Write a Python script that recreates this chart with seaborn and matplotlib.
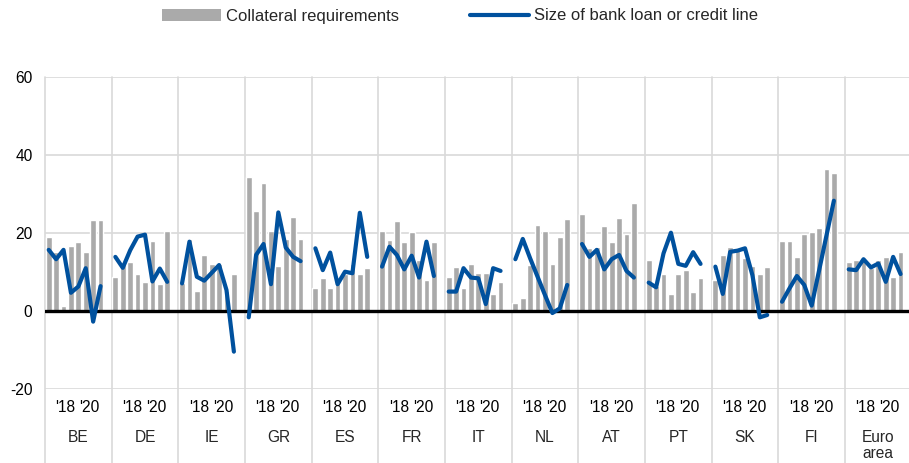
import numpy as np
import pandas as pd
import matplotlib
matplotlib.use("Agg")
import matplotlib.pyplot as plt
import seaborn as sns
from matplotlib.patches import Patch
from matplotlib.lines import Line2D

# Countries and survey rounds (eight per country)
countries = ["BE", "DE", "IE", "GR", "ES", "FR", "IT", "NL", "AT", "PT", "SK", "FI", "Euro\narea"]
year_labels = ["'18", "'20"]

# Net percentage of firms: collateral requirements
collateral = [
    [19.0, 15.0, 1.3, 16.6, 17.7, 15.1, 23.3, 23.3],   # BE
    [8.7, 12.0, 12.4, 9.3, 7.3, 17.9, 6.8, 20.5],      # DE
    [7.0, 18.4, 5.1, 14.4, 11.9, 11.9, 5.0, 9.3],      # IE
    [34.4, 25.6, 32.8, 20.5, 11.5, 18.4, 24.1, 18.5],  # GR
    [5.7, 8.3, 5.7, 8.5, 9.5, 12.0, 9.3, 10.9],        # ES
    [20.5, 18.1, 23.1, 17.5, 20.1, 13.0, 7.9, 17.5],   # FR
    [8.7, 11.3, 5.7, 11.9, 9.7, 9.7, 4.2, 7.3],        # IT
    [2.1, 3.2, 11.7, 22.1, 20.5, 11.9, 19.0, 23.6],    # NL
    [24.7, 16.0, 16.4, 21.7, 17.5, 23.7, 19.6, 27.7],  # AT
    [13.0, 6.3, 9.3, 4.2, 9.3, 10.4, 4.7, 8.3],        # PT
    [7.9, 14.4, 16.4, 15.6, 13.4, 11.5, 9.3, 11.3],    # SK
    [17.9, 17.9, 13.8, 19.6, 20.1, 21.1, 36.3, 35.4],  # FI
    [12.6, 13.0, 13.4, 11.0, 13.0, 13.8, 8.7, 15.0],   # Euro area
]

# Net percentage of firms: size of bank loan or credit line
loan_size = [
    [15.6, 13.2, 15.6, 4.6, 6.2, 10.9, -2.8, 6.3],     # BE
    [13.8, 11.0, 15.5, 19.0, 19.5, 7.5, 10.8, 7.4],    # DE
    [7.0, 17.7, 8.7, 7.7, 9.7, 11.7, 5.3, -10.5],      # IE
    [-1.7, 14.3, 17.1, 6.8, 25.2, 16.2, 13.8, 12.7],   # GR
    [16.0, 10.4, 14.9, 6.8, 10.0, 9.6, 25.1, 13.8],    # ES
    [11.3, 16.4, 14.3, 10.6, 14.1, 8.5, 17.7, 8.9],    # FR
    [4.9, 4.9, 10.9, 8.5, 8.3, 1.7, 10.9, 10.2],       # IT
    [13.2, 18.4, 13.4, 8.7, 4.0, -0.6, 0.6, 6.6],      # NL
    [17.1, 13.8, 15.6, 10.6, 13.2, 14.3, 10.2, 8.5],   # AT
    [7.2, 6.0, 14.7, 20.0, 12.0, 11.5, 15.0, 12.0],    # PT
    [11.3, 4.3, 15.1, 15.4, 16.0, 9.1, -1.7, -1.1],    # SK
    [2.3, 5.7, 8.9, 6.6, 1.3, 10.3, 19.3, 28.2],       # FI
    [10.6, 10.4, 13.2, 11.1, 12.1, 7.4, 13.8, 9.4],    # Euro area
]

BAR_COLOR = "#aaaaaa"
LINE_COLOR = "#00519e"
GRID_COLOR = "#d9d9d9"
SLOTS = 9  # eight rounds plus one blank spacer per country block
FS = 11.2

rows = []
for g, name in enumerate(countries):
    for p, (cv, lv) in enumerate(zip(collateral[g], loan_size[g])):
        rows.append({"country": name, "pos": g * SLOTS + p,
                     "collateral": cv, "loan": lv})
df = pd.DataFrame(rows)

sns.set_style("white")
plt.rcParams["font.family"] = ["Liberation Sans", "DejaVu Sans"]

W, H = 909, 463
fig = plt.figure(figsize=(W / 100, H / 100), dpi=100)
ax_left, ax_bottom, ax_w, ax_h = 45, 74.3, 864, 312
ax = fig.add_axes([ax_left / W, ax_bottom / H, ax_w / W, ax_h / H])

sns.barplot(data=df, x="pos", y="collateral", native_scale=True,
            color=BAR_COLOR, saturation=1, width=0.78, errorbar=None,
            ax=ax, zorder=2)
ax.axhline(0, color="black", lw=2.4, zorder=3)
sns.lineplot(data=df, x="pos", y="loan", units="country", estimator=None,
             color=LINE_COLOR, lw=3.0, ax=ax, zorder=4,
             solid_capstyle="round", solid_joinstyle="round")

ax.set_xlim(-0.5, 116.14)
ax.set_ylim(-20, 60)
ax.set_yticks([-20, 0, 20, 40, 60])
ax.set_yticklabels(["-20", "0", "20", "40", "60"])
ax.yaxis.grid(True, color=GRID_COLOR, lw=1.2)
ax.xaxis.grid(False)
ax.set_axisbelow(True)
for s in ax.spines.values():
    s.set_visible(False)
ax.set_xlabel("")
ax.set_ylabel("")

# year ticks within each country block
xt, xl = [], []
for g in range(len(countries)):
    xt += [g * SLOTS + 2.25, g * SLOTS + 5.5]
    xl += year_labels
ax.set_xticks(xt)
ax.set_xticklabels(xl)
ax.tick_params(axis="x", length=0, pad=8, labelsize=FS, colors="black")
ax.tick_params(axis="y", length=0, pad=9, labelsize=FS, colors="black")

# country names and block separators
trans = ax.get_xaxis_transform()
for g, name in enumerate(countries):
    ax.text(g * SLOTS + 4.0, -41.0 / ax_h, name, transform=trans,
            ha="center", va="top", fontsize=FS, linespacing=1.1)
for g in range(len(countries)):
    x = g * SLOTS - 0.5
    ax.plot([x, x], [1, -ax_bottom / ax_h], transform=trans, clip_on=False,
            color=GRID_COLOR, lw=1.2, zorder=1)

handles = [Patch(facecolor=BAR_COLOR, edgecolor="none"),
           Line2D([], [], color=LINE_COLOR, lw=3.0)]
fig.legend(handles, ["Collateral requirements", "Size of bank loan or credit line"],
           loc="center", bbox_to_anchor=(460 / W, 1 - 16 / H), ncol=2,
           frameon=False, fontsize=12, handlelength=3.5, handleheight=0.75,
           handletextpad=0.3, columnspacing=4.3)

fig.savefig("out.png", dpi=100)
